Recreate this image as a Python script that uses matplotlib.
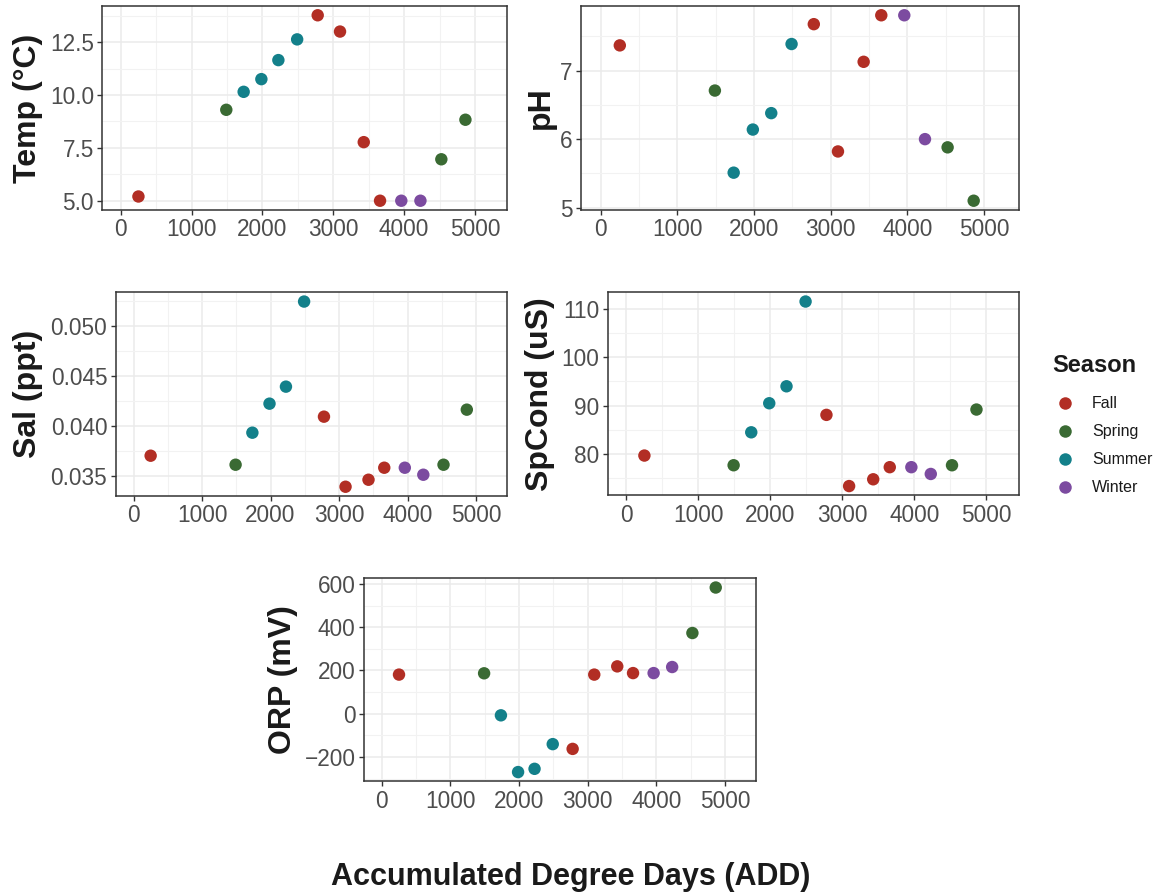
import matplotlib
matplotlib.use("Agg")
import matplotlib.pyplot as plt
from matplotlib.lines import Line2D
from matplotlib.ticker import MultipleLocator, FuncFormatter
import numpy as np

plt.rcParams['font.family'] = ['Liberation Sans', 'DejaVu Sans']

# data
add = [250, 1490, 1735, 1985, 2225, 2490, 2780, 3095, 3430, 3660, 3960, 4230, 4525, 4865]
season = ['Fall', 'Spring', 'Summer', 'Summer', 'Summer', 'Summer', 'Fall', 'Fall',
          'Fall', 'Fall', 'Winter', 'Winter', 'Spring', 'Spring']
temp = [5.2, 9.3, 10.15, 10.75, 11.65, 12.63, 13.77, 13.0, 7.77, 5.0, 5.0, 5.0, 6.96, 8.83]
ph = [7.37, 6.71, 5.51, 6.14, 6.38, 7.39, 7.68, 5.82, 7.13, 7.81, 7.81, 6.0, 5.88, 5.10]
sal = [0.0370, 0.0361, 0.0393, 0.0422, 0.0439, 0.0524, 0.0409, 0.0339, 0.0346, 0.0358,
       0.0358, 0.0351, 0.0361, 0.0416]
spcond = [79.7, 77.7, 84.5, 90.5, 94.0, 111.5, 88.1, 73.4, 74.8, 77.3, 77.3, 75.9, 77.7, 89.2]
orp = [181, 187, -7, -269, -254, -140, -162, 181, 219, 188, 188, 216, 373, 583]

seasons = ['Fall', 'Spring', 'Summer', 'Winter']
colors = {'Fall': '#B22E24', 'Spring': '#3A6A33', 'Summer': '#13808A', 'Winter': '#7C4BA0'}

W, H = 1157, 893
fig = plt.figure(figsize=(W / 100, H / 100), dpi=100)

def px_axes(l, t, r, b):
    return fig.add_axes([l / W, 1 - b / H, (r - l) / W, (b - t) / H])

def fmt_func(fmt):
    return FuncFormatter(lambda v, p: (fmt % v).replace('-', '\u2212'))

panels = [
    # (values, label, (l, t, r, b), y step, fmt, label x in px)
    (temp, 'Temp (°C)', (102.3, 6, 507.3, 210), 2.5, '%.1f', 28),
    (ph, 'pH', (580.7, 6, 1019, 210), 1, '%d', 541),
    (sal, 'Sal (ppt)', (115.7, 292.3, 507.3, 496), 0.005, '%.3f', 28),
    (spcond, 'SpCond (uS)', (607.7, 292.3, 1019, 495.3), 10, '%d', 540),
    (orp, 'ORP (mV)', (364, 578.3, 756.3, 781.3), 200, '%d', 283),
]

cols = [colors[s] for s in season]

for vals, label, box, step, fmt, lx in panels:
    ax = px_axes(*box)
    ax.set_axisbelow(True)
    ax.scatter(add, vals, c=cols, s=80, linewidths=0, zorder=3)
    ax.set_xlim(-260, 5456)
    ax.margins(y=0.05)
    ax.xaxis.set_major_locator(MultipleLocator(1000))
    ax.xaxis.set_minor_locator(MultipleLocator(500))
    ax.yaxis.set_major_locator(MultipleLocator(step))
    ax.yaxis.set_minor_locator(MultipleLocator(step / 2))
    ax.yaxis.set_major_formatter(fmt_func(fmt))
    ax.grid(which='major', color='#EBEBEB', linewidth=1.1)
    ax.grid(which='minor', color='#F2F2F2', linewidth=0.8)
    for sp in ax.spines.values():
        sp.set_color('#333333')
        sp.set_linewidth(1.1)
    ax.tick_params(which='major', length=3.5, width=1.0, color='#333333',
                   labelsize=16.3, labelcolor='#4D4D4D', pad=2.5)
    ax.tick_params(which='minor', length=0)
    ax.set_ylabel(label, fontsize=23, fontweight='bold', color='#1A1A1A', va='center')
    ax.yaxis.set_label_coords((lx - box[0]) / (box[2] - box[0]), 0.5)

fig.text(571 / W, 1 - 877 / H, 'Accumulated Degree Days (ADD)', ha='center', va='center',
         fontsize=22, fontweight='bold', color='#1A1A1A')

# legend: title drawn as text, entries below it
fig.text(1052 / W, 1 - 365 / H, 'Season', ha='left', va='center',
         fontsize=17, fontweight='bold', color='#1A1A1A')
handles = [Line2D([], [], marker='o', linestyle='', markersize=9, markeredgewidth=0,
                  color=colors[s]) for s in seasons]
leg = fig.legend(handles, seasons, loc='upper left',
                 bbox_to_anchor=(1052 / W, 1 - 396.5 / H), frameon=False,
                 fontsize=11.5, labelspacing=0.81,
                 handlelength=1.6, handletextpad=0.9, borderpad=0,
                 borderaxespad=0)
for t in leg.get_texts():
    t.set_color('#1A1A1A')

fig.savefig('out.png', dpi=100)
